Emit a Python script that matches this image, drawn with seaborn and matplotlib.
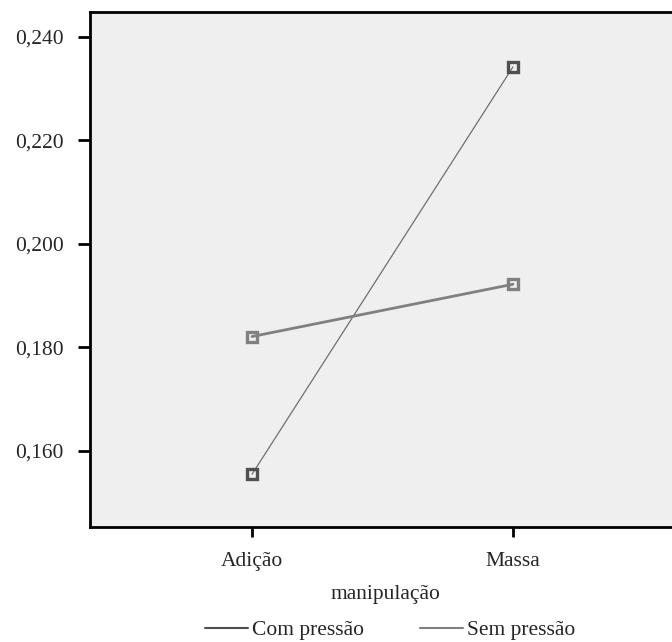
import pandas as pd
import seaborn as sns
import matplotlib
matplotlib.use("Agg")
import matplotlib.pyplot as plt
from matplotlib.lines import Line2D

### DATA
manipulacao = ["Adição", "Massa"]
com_pressao = [0.1555, 0.2342]
sem_pressao = [0.1821, 0.1922]
grupos = ["Com pressão", "Sem pressão"]
y_ticks = [0.160, 0.180, 0.200, 0.220, 0.240]

df = pd.DataFrame({
    "manipulação": manipulacao * 2,
    "valor": com_pressao + sem_pressao,
    "pressão": [grupos[0]] * 2 + [grupos[1]] * 2,
})

sns.set_style("white")
plt.rcParams["font.family"] = ["Liberation Serif", "DejaVu Serif"]

fig = plt.figure(figsize=(6.72, 6.42), dpi=100)
ax = fig.add_axes([90 / 672, 115 / 642, 590 / 672, 515 / 642])
ax.set_facecolor("#efefef")

estilos = {
    "Com pressão": dict(line="#707070", mark="#505050", lw=0.9),
    "Sem pressão": dict(line="#808080", mark="#808080", lw=2.0),
}

for g in grupos:
    sub = df[df["pressão"] == g]
    st = estilos[g]
    sns.lineplot(data=sub, x="manipulação", y="valor", ax=ax, color=st["line"],
                 linewidth=st["lw"], marker="s", markersize=7,
                 markerfacecolor="none", markeredgecolor=st["mark"],
                 markeredgewidth=2.4, legend=False, sort=False)

ax.set_xlim(-0.621, 1.64)
ax.set_ylim(0.1453, 0.2448)
ax.set_yticks(y_ticks)
ax.set_yticklabels([f"{v:.3f}".replace(".", ",") for v in y_ticks])

for s in ["left", "bottom", "top"]:
    ax.spines[s].set_color("black")
    ax.spines[s].set_linewidth(2)
ax.spines["right"].set_visible(False)

ax.tick_params(axis="y", direction="out", length=9, width=2, color="black",
               labelsize=15.5, pad=10, left=True)
ax.tick_params(axis="x", direction="out", length=7, width=2, color="black",
               labelsize=15.5, pad=11, bottom=True)
ax.set_xlabel("manipulação", fontsize=15.5, labelpad=10)
ax.set_ylabel("")

handles = [Line2D([0], [0], color="#505050", lw=1.5),
           Line2D([0], [0], color="#808080", lw=1.5)]
fig.legend(handles, grupos, loc="center", bbox_to_anchor=(390 / 672, 12 / 642),
           ncol=2, frameon=False, fontsize=15.5, handlelength=2.0,
           handletextpad=0.2, columnspacing=2.6)

fig.savefig("out.png", dpi=100)
